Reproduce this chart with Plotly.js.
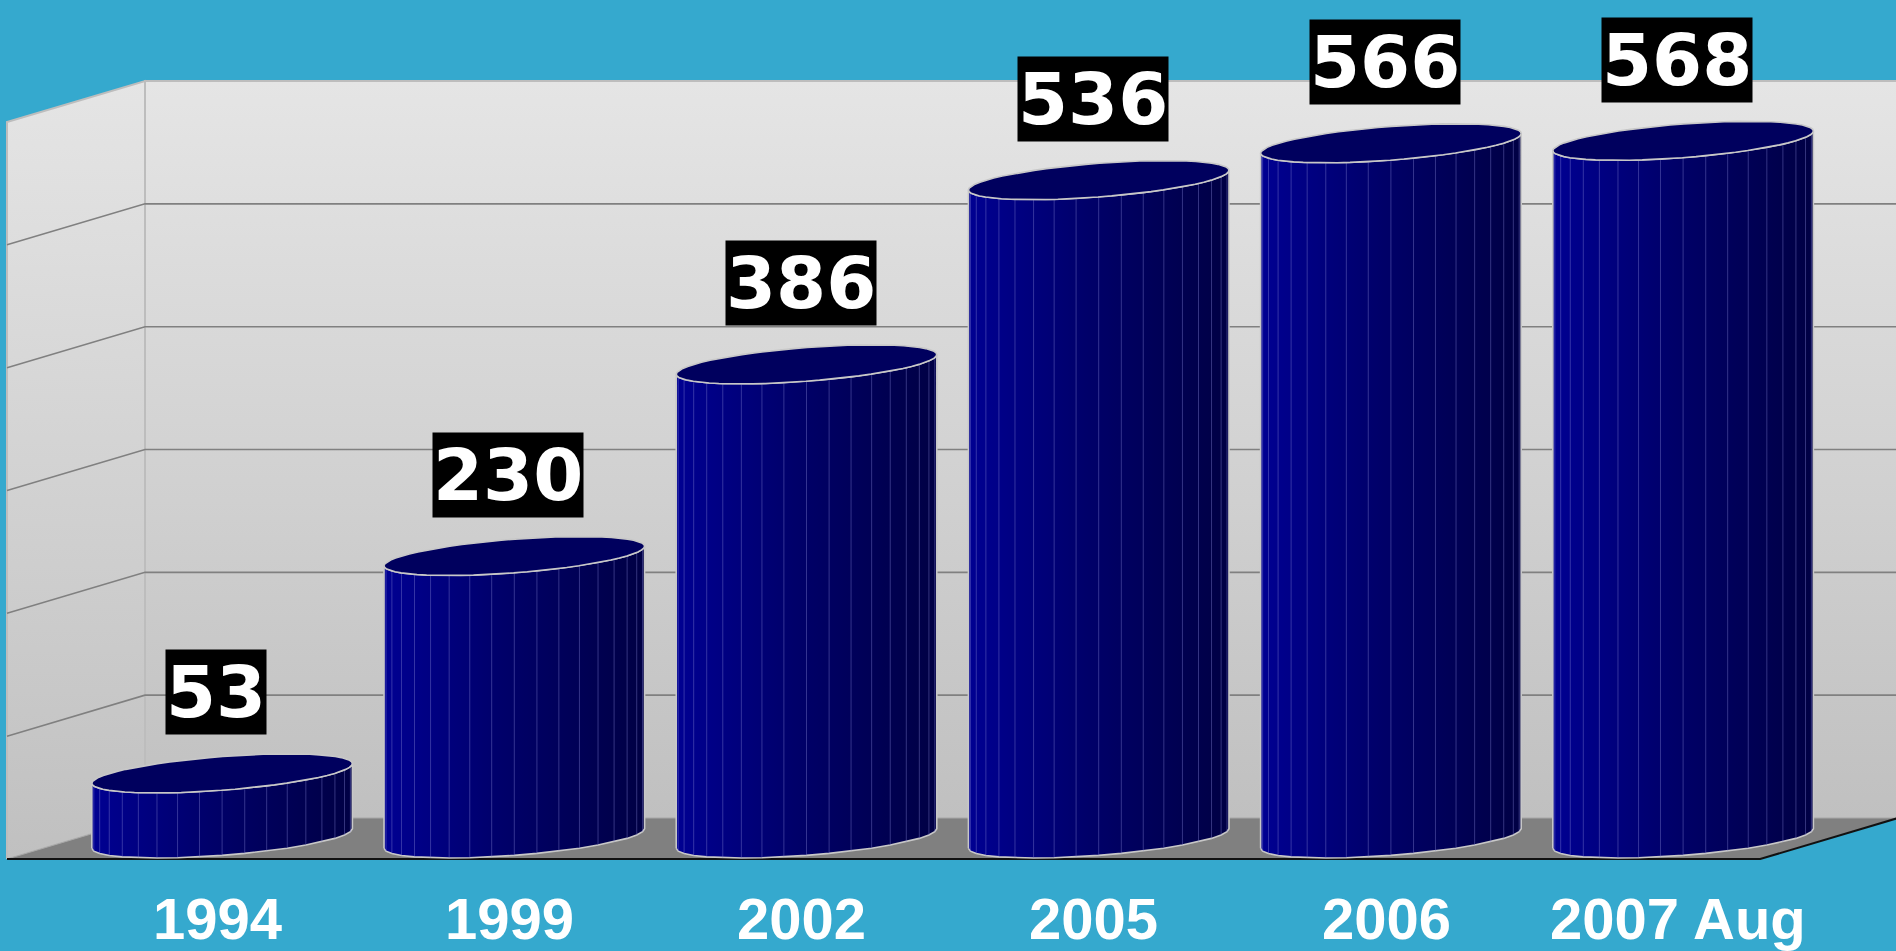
<!DOCTYPE html>
<html>
<head>
<meta charset="utf-8">
<script src="https://cdn.plot.ly/plotly-3.0.1.min.js"></script>
<style>html,body{margin:0;padding:0;background:#35A9CE;}#chart{width:1896px;height:951px;}</style>
</head>
<body>
<div id="chart"></div>
<script>
// ---- data ----
const categories = ["1994", "1999", "2002", "2005", "2006", "2007 Aug"];
const counts = [53, 230, 386, 536, 566, 568];
const gridValues = [100, 200, 300, 400, 500];
const axisMax = 600;

// ---- pseudo-3D projection parameters (in axis units) ----
const DX = 0.4723;   // depth offset along x (category units)
const DY = 33.38;    // depth offset along y (value units)
const RAD_X = 0.385; // cylinder radius across
const RAD_D = 0.476; // cylinder radius in depth (fraction of depth)
const NSEG = 18;
const nCat = categories.length;

const traces = [];
function poly(xs, ys, opts) {
  traces.push(Object.assign({type: 'scatter', mode: 'lines', x: xs, y: ys, hoverinfo: 'skip', showlegend: false}, opts));
}

// side wall
poly([0, DX, DX, 0, 0], [0, DY, axisMax + DY, axisMax, 0], {
  fill: 'toself', line: {color: '#BDBDBD', width: 2},
  fillgradient: {type: 'vertical', colorscale: [[0, '#C0C0C0'], [1, '#E5E5E5']]}
});
// back wall
poly([DX, nCat + DX + 0.2, nCat + DX + 0.2, DX, DX], [DY, DY, axisMax + DY, axisMax + DY, DY], {
  fill: 'toself', line: {color: '#BDBDBD', width: 2},
  fillgradient: {type: 'vertical', colorscale: [[0, '#C0C0C0'], [1, '#E5E5E5']]}
});
// gridlines
const gx = [], gy = [];
gridValues.forEach(v => {
  gx.push(0, DX, nCat + DX + 0.2, null);
  gy.push(v, v + DY, v + DY, null);
});
poly(gx, gy, {line: {color: '#808080', width: 1.6}});
// floor
poly([0, nCat, nCat + DX, DX, 0], [0, 0, DY, DY, 0], {
  fill: 'toself', fillcolor: '#808080', line: {color: '#A8A8A8', width: 1}
});
// floor front edge
poly([0, nCat, nCat + DX], [0, 0, DY], {line: {color: '#111111', width: 2}});

// cylinders
const t1 = Math.atan2(DX * RAD_D, RAD_X);
const t2 = t1 - Math.PI;
function pt(uc, base, t) {
  const d = 0.5 + RAD_D * Math.sin(t);
  return [uc + RAD_X * Math.cos(t) + DX * d, base + DY * d];
}
counts.forEach((v, i) => {
  const uc = i + 0.5;
  const sx = [], sy = [];
  const ts = [];
  for (let k = 0; k <= NSEG; k++) ts.push(t2 + (t1 - t2) * k / NSEG);
  ts.forEach(t => { const p = pt(uc, 0, t); sx.push(p[0]); sy.push(p[1]); });
  ts.slice().reverse().forEach(t => { const p = pt(uc, v, t); sx.push(p[0]); sy.push(p[1]); });
  sx.push(sx[0]); sy.push(sy[0]);
  poly(sx, sy, {
    fill: 'toself', line: {color: '#C8C8C8', width: 1.6},
    fillgradient: {type: 'horizontal', colorscale: [[0, '#000092'], [0.45, '#00006A'], [1, '#000044']]}
  });
  // facet lines
  const fx = [], fy = [];
  for (let k = 1; k < NSEG; k++) {
    const t = ts[k];
    const a = pt(uc, 0, t), b = pt(uc, v, t);
    fx.push(a[0], b[0], null); fy.push(a[1], b[1], null);
  }
  poly(fx, fy, {line: {color: 'rgba(130,130,210,0.4)', width: 1}});
  // top ellipse
  const ex = [], ey = [];
  for (let k = 0; k <= 60; k++) {
    const t = 2 * Math.PI * k / 60;
    const p = pt(uc, v, t); ex.push(p[0]); ey.push(p[1]);
  }
  poly(ex, ey, {fill: 'toself', fillcolor: '#00005E', line: {color: '#C8C8C8', width: 1.6}});
});

const annotations = [];
counts.forEach((v, i) => {
  annotations.push({
    x: i + 0.5 + DX * 0.5 - 0.02, y: v + DY * 0.5, xref: 'x', yref: 'y',
    text: String(v), showarrow: false, yanchor: 'middle', xanchor: 'center', yshift: 81,
    bgcolor: '#000000', borderpad: 0,
    font: {family: 'DejaVu Sans', size: 72, color: '#FFFFFF', weight: 'bold'}
  });
  annotations.push({
    x: i + 0.72, y: -48.8, xref: 'x', yref: 'y',
    text: '<b>' + categories[i] + '</b>', showarrow: false, yanchor: 'middle', xanchor: 'center',
    font: {family: 'Liberation Sans, Arial', size: 58, color: '#FFFFFF'}
  });
});

const layout = {
  width: 1896, height: 951,
  margin: {l: 0, r: 0, t: 0, b: 0, pad: 0},
  paper_bgcolor: '#35A9CE', plot_bgcolor: 'rgba(0,0,0,0)',
  showlegend: false,
  xaxis: {range: [-7 / 292.2, (1896 - 7) / 292.2], visible: false, fixedrange: true},
  yaxis: {range: [-(951 - 859) / 1.2283, 859 / 1.2283], visible: false, fixedrange: true},
  annotations: annotations
};
Plotly.newPlot('chart', traces, layout, {displayModeBar: false, staticPlot: true});
</script>
</body>
</html>
